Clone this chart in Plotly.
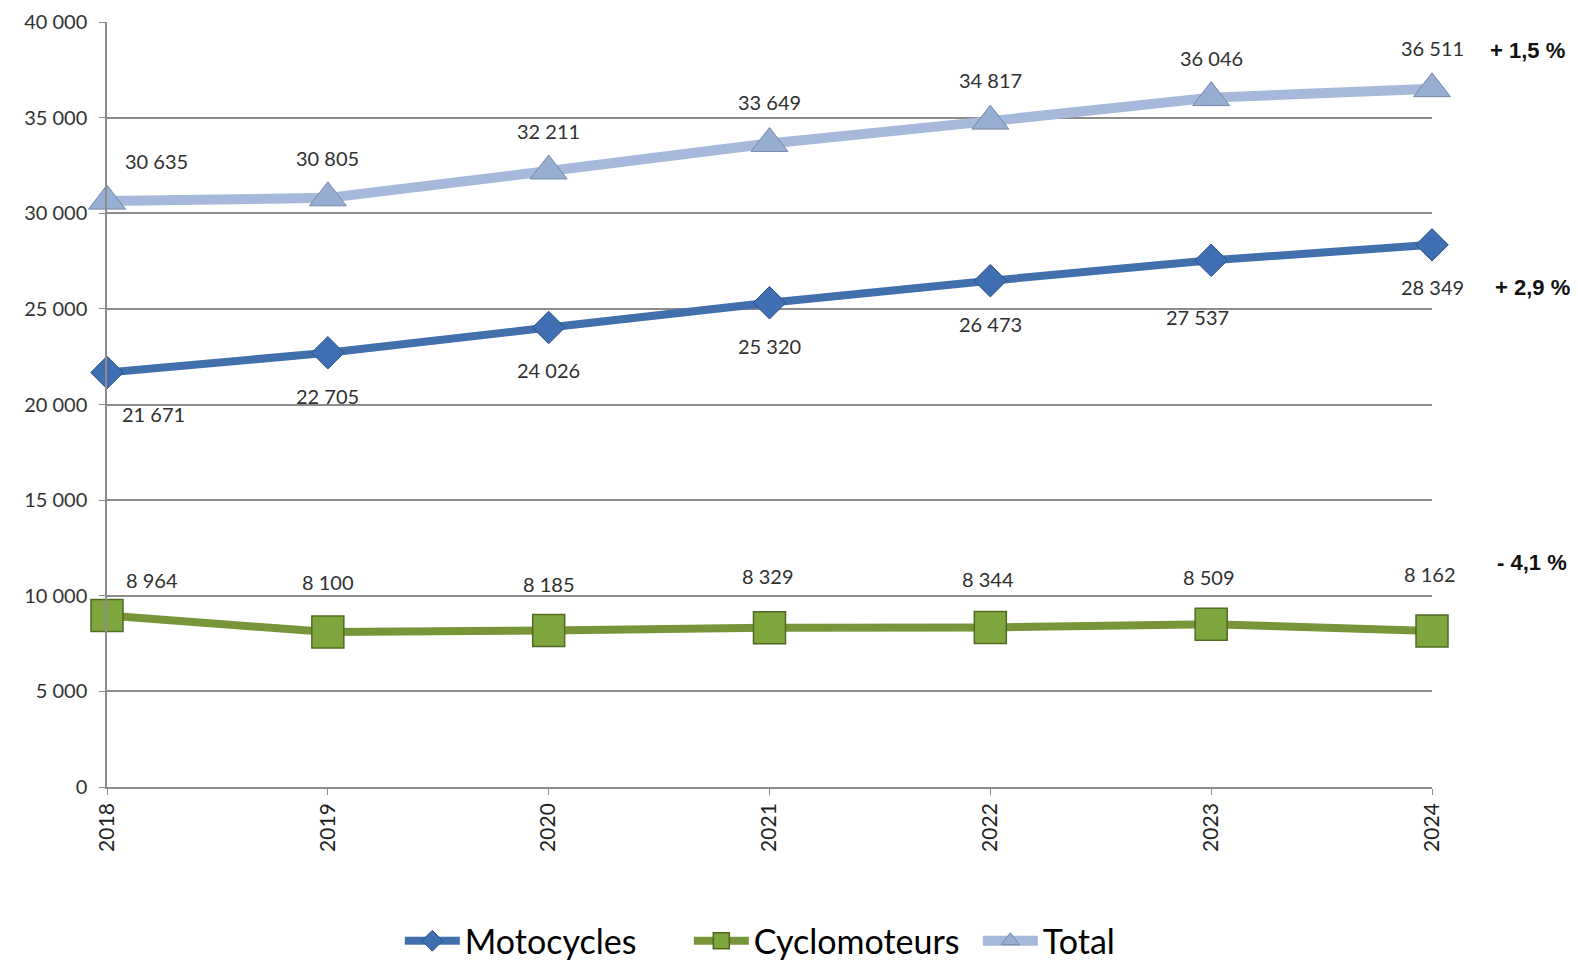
import plotly.graph_objects as go

years = ["2018", "2019", "2020", "2021", "2022", "2023", "2024"]
motocycles = [21671, 22705, 24026, 25320, 26473, 27537, 28349]
cyclomoteurs = [8964, 8100, 8185, 8329, 8344, 8509, 8162]
total = [30635, 30805, 32211, 33649, 34817, 36046, 36511]
y_ticks = [0, 5000, 10000, 15000, 20000, 25000, 30000, 35000, 40000]
evolutions = {"Total": "+ 1,5 %", "Motocycles": "+ 2,9 %", "Cyclomoteurs": "- 4,1 %"}


def fmt(v):
    return f"{v:,}".replace(",", " ")


FONT = "Lato"
x = list(range(len(years)))

fig = go.Figure()

fig.add_trace(go.Scatter(
    x=x, y=motocycles, name="Motocycles", mode="lines+markers", cliponaxis=False,
    line=dict(color="#4270AC", width=8),
    marker=dict(symbol="diamond", size=25, color="#3F6FB2",
                line=dict(color="#2B4F85", width=1)),
))
fig.add_trace(go.Scatter(
    x=x, y=cyclomoteurs, name="Cyclomoteurs", mode="lines+markers", cliponaxis=False,
    line=dict(color="#77963A", width=8),
    marker=dict(symbol="square", size=32, color="#7FA63E",
                line=dict(color="#4F6B22", width=1.5)),
))
fig.add_trace(go.Scatter(
    x=x, y=total, name="Total", mode="lines+markers", cliponaxis=False,
    line=dict(color="#A6B9DA", width=10),
    marker=dict(symbol="triangle-up", size=32, color="#98ADD2",
                line=dict(color="#7688AA", width=1)),
))

# data label offsets (pixels) – style only
tot_off = [(49, -40), (0, -40), (0, -40), (0, -41), (0, -41), (0, -40), (0, -41)]
moto_off = [(46, 41), (0, 43), (0, 42), (0, 43), (0, 43), (-14, 57), (0, 42)]
cyc_off = [(45, -36), (0, -50), (0, -46), (-2, -52), (-2, -48), (-2, -47), (-2, -57)]

for series, offs in ((total, tot_off), (motocycles, moto_off), (cyclomoteurs, cyc_off)):
    for i, v in enumerate(series):
        fig.add_annotation(x=x[i], y=v, text=fmt(v), showarrow=False,
                           xshift=offs[i][0], yshift=-offs[i][1],
                           font=dict(family=FONT, size=20, color="#303030"))

# evolution annotations at right
for series, key, dx, dy in ((total, "Total", 95, -38), (motocycles, "Motocycles", 100, 43),
                            (cyclomoteurs, "Cyclomoteurs", 100, -68)):
    fig.add_annotation(x=x[-1], y=series[-1], text=f"<b>{evolutions[key]}</b>",
                       showarrow=False, xshift=dx, yshift=-dy,
                       font=dict(family="Liberation Sans", size=22, color="#111111"))

fig.update_layout(
    width=1570, height=954,
    margin=dict(l=99, r=146, t=14, b=175, autoexpand=False),
    paper_bgcolor="white", plot_bgcolor="white",
    font=dict(family=FONT, color="#404040"),
    showlegend=True,
    legend=dict(orientation="h", x=0.221, xanchor="left", y=-0.2015, yanchor="middle",
                font=dict(family=FONT, size=34, color="#000000"),
                itemwidth=55, entrywidth=219, entrywidthmode="pixels"),
)
fig.update_xaxes(
    range=[0, len(years) - 1], tickvals=x, ticktext=years, tickangle=-90,
    showgrid=False, zeroline=False, showline=True, linecolor="#8C8C8C", linewidth=1.5,
    ticks="outside", ticklen=6, tickcolor="#8C8C8C", automargin=False,
    tickfont=dict(family=FONT, size=21, color="#222222"),
)
fig.update_yaxes(
    range=[0, 40000], tickvals=y_ticks, ticktext=[fmt(v) for v in y_ticks],
    showgrid=True, gridcolor="#8C8C8C", gridwidth=1.5, zeroline=False,
    showline=True, linecolor="#8C8C8C", linewidth=1.5, automargin=False,
    ticks="outside", ticklen=6, tickcolor="#8C8C8C", ticklabelstandoff=8,
    tickfont=dict(family=FONT, size=20, color="#333333"),
)

fig.write_html("out.html")
